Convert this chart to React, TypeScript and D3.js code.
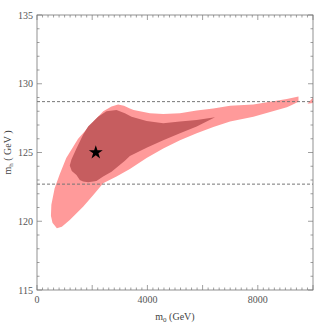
import React from "react";
import * as d3 from "d3";

// region boundaries: [m0 (GeV), mh (GeV)]
const outerRegion: [number, number][] = [
  [720, 119.5], [560, 119.9], [505, 120.4], [520, 121.2], [640, 122.4],
  [820, 123.4], [1060, 124.6], [1490, 126.0], [1975, 127.1], [2400, 128.0],
  [2700, 128.35], [2940, 128.5], [3150, 128.4], [3365, 128.2], [3500, 128.1],
  [3728, 128.0], [4090, 127.86], [4574, 127.8], [5180, 127.86], [5786, 128.05],
  [6389, 128.2], [6995, 128.4], [7840, 128.5], [9053, 128.9], [9474, 129.07],
  [9474, 128.7], [9234, 128.45], [9053, 128.3], [7840, 127.6], [6995, 127.25],
  [6389, 126.85], [5786, 126.4], [5180, 125.9], [4574, 125.3], [3970, 124.6],
  [3365, 123.8], [2880, 123.25], [2396, 122.77], [2033, 121.9], [1670, 121.06],
  [1187, 120.1], [900, 119.6],
];

const outerSliver: [number, number][] = [
  [9800, 128.55], [10000, 129.0], [10000, 128.6],
];

const innerRegion: [number, number][] = [
  [1187, 124.05], [1248, 124.5], [1430, 125.3], [1670, 126.3], [1852, 126.9],
  [2214, 127.6], [2517, 128.0], [2880, 128.1], [3184, 127.86], [3426, 127.6],
  [3970, 127.3], [4574, 127.13], [5180, 127.25], [5786, 127.37], [6450, 127.57],
  [5786, 126.9], [5180, 126.4], [4574, 125.9], [3970, 125.35], [3365, 124.75],
  [3184, 124.4], [2700, 123.6], [2396, 123.25], [2154, 122.93], [1852, 122.84],
  [1670, 122.9], [1550, 123.0], [1430, 123.37], [1260, 123.65],
];

const bestFit: [number, number] = [2130, 125];
const bandLimits = [128.7, 122.7];

const xTickLabels = [0, 4000, 8000];
const yTickLabels = [115, 120, 125, 130, 135];

export default function App() {
  const width = 317;
  const height = 327;
  const margin = { top: 15, right: 4, bottom: 37, left: 37 };
  const innerWidth = width - margin.left - margin.right;
  const innerHeight = height - margin.top - margin.bottom;

  const x = d3.scaleLinear().domain([0, 10000]).range([0, innerWidth]);
  const y = d3.scaleLinear().domain([115, 135]).range([innerHeight, 0]);

  const area = d3
    .line<[number, number]>()
    .x((d) => x(d[0]))
    .y((d) => y(d[1]));

  const xMinor = d3.range(0, 10001, 200);
  const yMinor = d3.range(115, 135.1, 1);
  const axisColor = "#777";
  const font = "'Liberation Serif', 'DejaVu Serif', serif";

  const star = d3.symbol().type(d3.symbolStar).size(60)();

  return (
    <svg
      width={width}
      height={height}
      style={{ position: "absolute", left: 0, top: 0, background: "#fff" }}
    >
      <g transform={`translate(${margin.left},${margin.top})`}>
        <path d={area(outerRegion) + "Z"} fill="#ff9a9a" />
        <path d={area(outerSliver) + "Z"} fill="#ff9a9a" />
        <path d={area(innerRegion) + "Z"} fill="#c65d5f" />

        {bandLimits.map((v) => (
          <line
            key={v}
            x1={0}
            x2={innerWidth}
            y1={y(v)}
            y2={y(v)}
            stroke="#777"
            strokeWidth={1}
            strokeDasharray="3,2"
          />
        ))}

        <path
          d={star}
          transform={`translate(${x(bestFit[0])},${y(bestFit[1])})`}
          fill="#000"
        />

        {/* frame and ticks */}
        <rect
          x={0}
          y={0}
          width={innerWidth}
          height={innerHeight}
          fill="none"
          stroke={axisColor}
          strokeWidth={0.8}
        />
        {xMinor.map((v) => {
          const len = v % 2000 === 0 ? 5 : 2.5;
          return (
            <g key={"x" + v} stroke={axisColor} strokeWidth={0.7}>
              <line x1={x(v)} x2={x(v)} y1={innerHeight} y2={innerHeight - len} />
              <line x1={x(v)} x2={x(v)} y1={0} y2={len} />
            </g>
          );
        })}
        {yMinor.map((v) => {
          const len = v % 5 === 0 ? 5 : 2.5;
          return (
            <g key={"y" + v} stroke={axisColor} strokeWidth={0.7}>
              <line x1={0} x2={len} y1={y(v)} y2={y(v)} />
              <line x1={innerWidth} x2={innerWidth - len} y1={y(v)} y2={y(v)} />
            </g>
          );
        })}

        {xTickLabels.map((v) => (
          <text
            key={v}
            x={x(v)}
            y={innerHeight + 13}
            textAnchor="middle"
            fontFamily={font}
            fontSize={10}
            fill="#555"
          >
            {v}
          </text>
        ))}
        {yTickLabels.map((v) => (
          <text
            key={v}
            x={-4}
            y={y(v) + 3.5}
            textAnchor="end"
            fontFamily={font}
            fontSize={10}
            fill="#555"
          >
            {v}
          </text>
        ))}

        <text
          x={innerWidth / 2}
          y={innerHeight + 30}
          textAnchor="middle"
          fontFamily={font}
          fontSize={10}
          fill="#444"
        >
          m
          <tspan fontSize={7} dy={2}>0</tspan>
          <tspan dy={-2}> (GeV)</tspan>
        </text>
        <text
          transform={`translate(${-26},${innerHeight / 2}) rotate(-90)`}
          textAnchor="middle"
          fontFamily={font}
          fontSize={10}
          fill="#444"
        >
          m
          <tspan fontSize={7} dy={2}>h</tspan>
          <tspan dy={-2}> ( GeV )</tspan>
        </text>
      </g>
    </svg>
  );
}
